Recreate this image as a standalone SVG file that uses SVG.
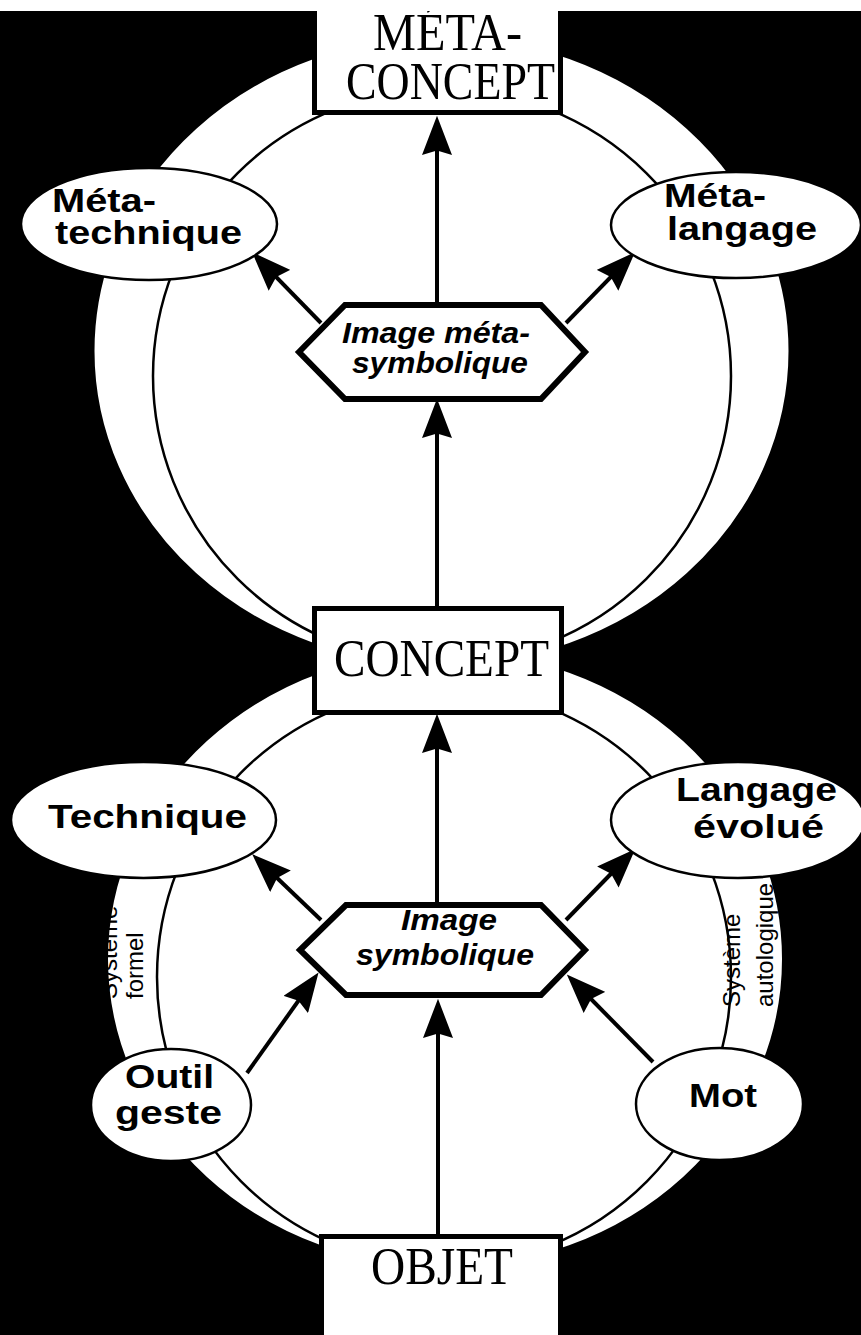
<svg xmlns="http://www.w3.org/2000/svg" width="861" height="1335" viewBox="0 0 861 1335">
  <style>
    .ring-outer { fill: #fff; stroke: #000; stroke-width: 2; }
    .ring-inner { fill: none; stroke: #000; stroke-width: 2.5; }
    .box { fill: #fff; stroke: #000; stroke-width: 5; }
    .ell { fill: #fff; stroke: #000; stroke-width: 2.5; }
    .hex { fill: #fff; stroke: #000; stroke-width: 6; stroke-linejoin: miter; }
    .conn { stroke: #000; stroke-width: 4; fill: none; marker-end: url(#arrow); }
    .serif { font-family: "Liberation Serif", "Times New Roman", serif; font-size: 53px; fill: #000; }
    .lbl { font-family: "Liberation Sans", Arial, sans-serif; font-weight: bold; font-size: 33px; fill: #000; }
    .ital { font-family: "Liberation Sans", Arial, sans-serif; font-weight: bold; font-style: italic; font-size: 29px; fill: #000; }
    .rot { font-family: "Liberation Sans", Arial, sans-serif; font-size: 24px; fill: #000; }
  </style>
  <defs>
    <marker id="arrow" markerUnits="userSpaceOnUse" markerWidth="40" markerHeight="30" viewBox="0 0 34 26" refX="26" refY="13" orient="auto">
      <path d="M0,0 L34,13 L0,26 L4,13 Z" fill="#000"/>
    </marker>
    <clipPath id="lowerClip">
      <ellipse cx="445" cy="959" rx="338" ry="309"/>
    </clipPath>
  </defs>

  <rect x="0" y="0" width="861" height="1335" fill="#fff"/>
  <rect x="0" y="11" width="861" height="1324" fill="#000"/>

  <g id="rings">
    <ellipse class="ring-outer" cx="441.5" cy="351" rx="348" ry="315"/>
    <ellipse class="ring-outer" cx="445" cy="959" rx="338" ry="309"/>
    <ellipse class="ring-inner" cx="442" cy="376" rx="289" ry="287"/>
    <ellipse class="ring-inner" cx="444" cy="977" rx="287" ry="289"/>
  </g>

  <g id="ring-labels" clip-path="url(#lowerClip)">
    <text class="rot" transform="translate(117,999) rotate(-90)">Système</text>
    <text class="rot" transform="translate(143,999) rotate(-90)">formel</text>
    <text class="rot" transform="translate(740,1007) rotate(-90)">Système</text>
    <text class="rot" transform="translate(773,1007) rotate(-90)">autologique</text>
  </g>

  <g id="connectors">
    <line class="conn" x1="437" y1="302" x2="437" y2="125"/>
    <line class="conn" x1="321" y1="323" x2="258.5" y2="258.8"/>
    <line class="conn" x1="566" y1="323" x2="628.5" y2="258.8"/>
    <line class="conn" x1="437" y1="606" x2="437" y2="408"/>
    <line class="conn" x1="437" y1="905" x2="437" y2="723"/>
    <line class="conn" x1="321" y1="920" x2="258.8" y2="860.5"/>
    <line class="conn" x1="566" y1="920" x2="628.8" y2="855.5"/>
    <line class="conn" x1="247" y1="1073" x2="313.2" y2="980"/>
    <line class="conn" x1="653" y1="1062" x2="573.3" y2="981"/>
    <line class="conn" x1="438" y1="1234" x2="438" y2="1008"/>
  </g>

  <g id="meta-concept">
    <rect class="box" x="314.5" y="-10" width="246" height="122.5"/>
    <text class="serif" x="373" y="50" textLength="149" lengthAdjust="spacingAndGlyphs">MÉTA-</text>
    <text class="serif" x="346" y="99" textLength="209" lengthAdjust="spacingAndGlyphs">CONCEPT</text>
  </g>

  <g id="meta-technique">
    <ellipse class="ell" cx="149" cy="224" rx="128" ry="56"/>
    <text class="lbl" x="52" y="212" textLength="104" lengthAdjust="spacingAndGlyphs">Méta-</text>
    <text class="lbl" x="55" y="244" textLength="187" lengthAdjust="spacingAndGlyphs">technique</text>
  </g>

  <g id="meta-langage">
    <ellipse class="ell" cx="736" cy="225" rx="125" ry="53"/>
    <text class="lbl" x="664" y="207" textLength="102" lengthAdjust="spacingAndGlyphs">Méta-</text>
    <text class="lbl" x="667" y="240" textLength="150" lengthAdjust="spacingAndGlyphs">langage</text>
  </g>

  <g id="image-meta-symbolique">
    <polygon class="hex" points="299,352 345,305 541,305 585,352 541,399 345,399"/>
    <text class="ital" x="342" y="343" textLength="188" lengthAdjust="spacingAndGlyphs">Image méta-</text>
    <text class="ital" x="352" y="373" textLength="176" lengthAdjust="spacingAndGlyphs">symbolique</text>
  </g>

  <g id="concept">
    <rect class="box" x="314.5" y="608.5" width="247" height="104"/>
    <text class="serif" x="334" y="676" textLength="215" lengthAdjust="spacingAndGlyphs">CONCEPT</text>
  </g>

  <g id="technique">
    <ellipse class="ell" cx="143.5" cy="820" rx="132.5" ry="58"/>
    <text class="lbl" x="48" y="828" textLength="199" lengthAdjust="spacingAndGlyphs">Technique</text>
  </g>

  <g id="langage-evolue">
    <ellipse class="ell" cx="738" cy="820" rx="127" ry="58"/>
    <text class="lbl" x="676" y="801" textLength="161" lengthAdjust="spacingAndGlyphs">Langage</text>
    <text class="lbl" x="693" y="838" textLength="131" lengthAdjust="spacingAndGlyphs">évolué</text>
  </g>

  <g id="image-symbolique">
    <polygon class="hex" points="300,950 346,905 541,905 585,950 541,995 346,995"/>
    <text class="ital" x="401" y="930" textLength="96" lengthAdjust="spacingAndGlyphs">Image</text>
    <text class="ital" x="356" y="965" textLength="178" lengthAdjust="spacingAndGlyphs">symbolique</text>
  </g>

  <g id="outil-geste">
    <ellipse class="ell" cx="171" cy="1105" rx="80" ry="56"/>
    <text class="lbl" x="125" y="1088" textLength="89" lengthAdjust="spacingAndGlyphs">Outil</text>
    <text class="lbl" x="115" y="1124" textLength="107" lengthAdjust="spacingAndGlyphs">geste</text>
  </g>

  <g id="mot">
    <ellipse class="ell" cx="719.5" cy="1104" rx="83.5" ry="56"/>
    <text class="lbl" x="689" y="1107" textLength="68" lengthAdjust="spacingAndGlyphs">Mot</text>
  </g>

  <g id="objet">
    <rect class="box" x="321.5" y="1236.5" width="239" height="120"/>
    <text class="serif" x="371" y="1284" textLength="142" lengthAdjust="spacingAndGlyphs">OBJET</text>
  </g>

  <rect x="0" y="0" width="861" height="11" fill="#fff"/>
</svg>
